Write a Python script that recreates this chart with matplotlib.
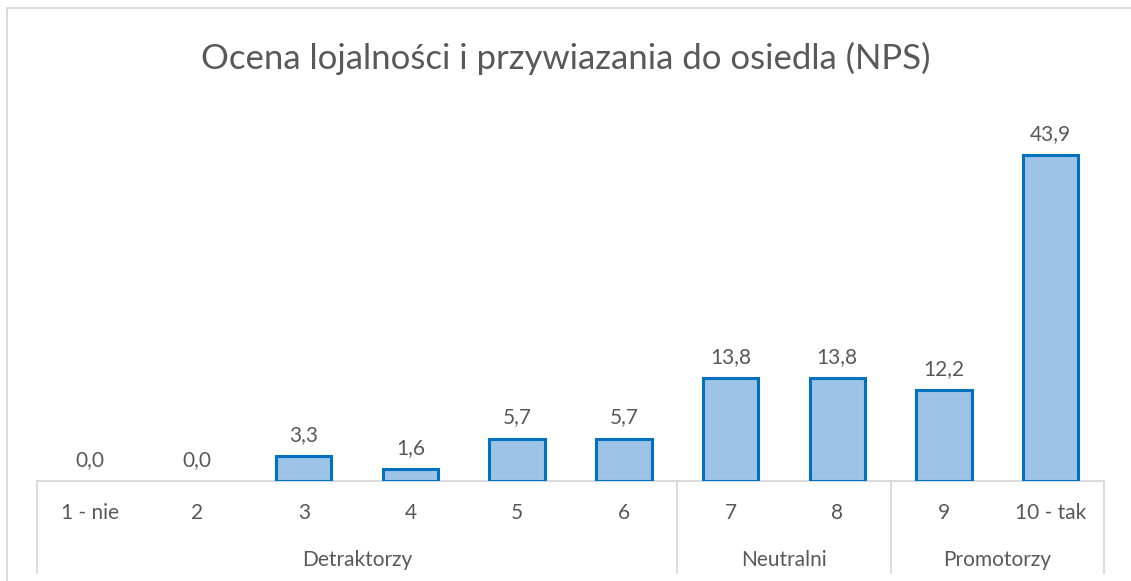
import matplotlib.pyplot as plt
import matplotlib.transforms as mtransforms
from matplotlib.patches import Rectangle

# chart data
categories = ['1 - nie', '2', '3', '4', '5', '6', '7', '8', '9', '10 - tak']
values = [0.0, 0.0, 3.3, 1.6, 5.7, 5.7, 13.8, 13.8, 12.2, 43.9]
groups = ['Detraktorzy', 'Neutralni', 'Promotorzy']
group_sizes = [6, 2, 2]

title = 'Ocena lojalności i przywiazania do osiedla (NPS)'

plt.rcParams['font.family'] = ['Lato', 'DejaVu Sans']
text_color = '#595959'
grid_color = '#D9D9D9'

W, H = 1131, 581
fig = plt.figure(figsize=(W / 100, H / 100), dpi=100)

# axes placed in pixel terms
left, right = 37, 1104
base, top = 481, 109.5
ax = fig.add_axes([left / W, (H - base) / H, (right - left) / W, (base - top) / H])

x = list(range(len(categories)))
bars = ax.bar(x, values, width=0.52, color='#9DC3E6', edgecolor='#0070C0', linewidth=2.2, zorder=3)
for b, v in zip(bars, values):
    if v == 0:
        b.set_linewidth(0)
ax.set_xlim(-0.5, len(categories) - 0.5)
ax.set_ylim(0, 50)

for spine in ax.spines.values():
    spine.set_visible(False)
ax.set_xticks([])
ax.set_yticks([])

# value labels
for xi, v in zip(x, values):
    ax.annotate(f'{v:.1f}'.replace('.', ','), (xi, v), xytext=(0, 8), textcoords='offset points',
                ha='center', va='bottom', fontsize=15, color=text_color)

trans = mtransforms.blended_transform_factory(ax.transData, ax.transAxes)
axis_h = base - top
low = -(573 - base) / axis_h

# category axis line
ax.plot([-0.5, len(categories) - 0.5], [0, 0], color=grid_color, lw=1.3, transform=trans,
        clip_on=False, zorder=2)

# category labels
for xi, c in zip(x, categories):
    ax.text(xi, -(513 - base) / axis_h, c, transform=trans, ha='center', va='center',
            fontsize=15, color=text_color)

# group labels and separators
start = 0
bounds = [-0.5]
for g, n in zip(groups, group_sizes):
    center = start + (n - 1) / 2
    ax.text(center, -(560 - base) / axis_h, g, transform=trans, ha='center', va='center',
            fontsize=15, color=text_color)
    start += n
    bounds.append(start - 0.5)
for b in bounds:
    ax.plot([b, b], [0, low], color=grid_color, lw=1.3, transform=trans, clip_on=False)

fig.suptitle(title, x=0.5, y=1 - 58 / H, va='center', fontsize=25, color=text_color)

# chart border
fig.patches.append(Rectangle((7 / W, -0.1), 1.2, 1 - 8 / H + 0.1, transform=fig.transFigure,
                             fill=False, edgecolor=grid_color, lw=1.3))

fig.savefig('out.png', dpi=100)
